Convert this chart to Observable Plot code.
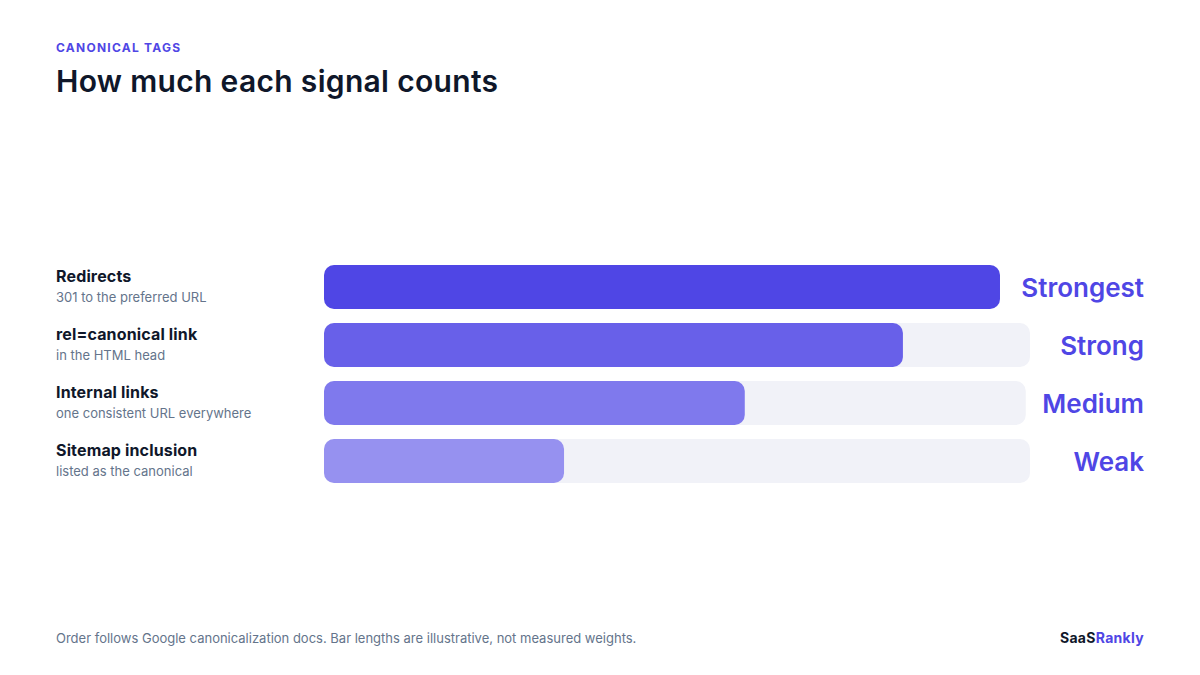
<!DOCTYPE html>
<html>
<head>
<meta charset="utf-8">
<script src="https://cdn.jsdelivr.net/npm/d3@7"></script>
<script src="https://cdn.jsdelivr.net/npm/@observablehq/plot@0.6"></script>
<style>
html,body{margin:0;padding:0;background:#fff;}
body{width:1200px;height:675px;position:relative;overflow:hidden;font-family:Inter,sans-serif;}
#eyebrow{position:absolute;left:56px;top:40px;font-size:12px;line-height:15px;font-weight:700;letter-spacing:1.25px;color:#4f46e5;white-space:nowrap;}
#title{position:absolute;left:56px;top:62px;font-size:30px;line-height:38px;font-weight:600;letter-spacing:0.32px;color:#0f172a;white-space:nowrap;margin:0;}
#chart{position:absolute;left:0;top:250px;}
#chart svg{display:block;}
.signal-label text{letter-spacing:0.15px;}
#note{position:absolute;left:56px;top:630px;font-size:13px;line-height:16px;color:#64748b;white-space:nowrap;}
#brand{position:absolute;right:56px;top:629px;font-size:14px;line-height:17px;font-weight:700;letter-spacing:0.3px;color:#0f172a;white-space:nowrap;}
#brand span{color:#4f46e5;}
</style>
</head>
<body>
<div id="eyebrow">CANONICAL TAGS</div>
<h1 id="title">How much each signal counts</h1>
<div id="chart"></div>
<div id="note">Order follows Google canonicalization docs. Bar lengths are illustrative, not measured weights.</div>
<div id="brand">SaaS<span>Rankly</span></div>
<script>
const signals = ["Redirects", "rel=canonical link", "Internal links", "Sitemap inclusion"];
const details = ["301 to the preferred URL", "in the HTML head", "one consistent URL everywhere", "listed as the canonical"];
const strengths = ["Strongest", "Strong", "Medium", "Weak"];
const fillValues = [95.75, 82, 59.6, 34];
const trackValues = [95.75, 100, 99.4, 100];
const fillColors = ["#4f46e5", "#6860e9", "#7f79ed", "#9691f0"];

const rows = signals.map((signal, i) => ({
  signal, detail: details[i], strength: strengths[i],
  fill: fillValues[i], track: trackValues[i], color: fillColors[i]
}));

const font = "Inter, sans-serif";
const plot = Plot.plot({
  width: 1200,
  height: 240,
  marginLeft: 56,
  marginRight: 56,
  marginTop: 15,
  marginBottom: 7,
  x: {domain: [0, 100], range: [324, 1030], axis: null},
  y: {domain: signals, paddingInner: 14 / 58, paddingOuter: 0, round: false, axis: null},
  marks: [
    Plot.barX(rows, {x: "track", y: "signal", fill: "#f1f2f8", rx: 10}),
    Plot.barX(rows, {x: "fill", y: "signal", fill: d => d.color, rx: 10}),
    Plot.text(rows, {text: "signal", y: "signal", frameAnchor: "left", textAnchor: "start", dx: -0.5, dy: -11, fontSize: 16, fontWeight: 700, fontFamily: font, fill: "#0f172a", className: "signal-label"}),
    Plot.text(rows, {text: "detail", y: "signal", frameAnchor: "left", textAnchor: "start", dx: -0.5, dy: 10, fontSize: 13, fontFamily: font, fill: "#64748b"}),
    Plot.text(rows, {text: "strength", y: "signal", frameAnchor: "right", textAnchor: "end", dx: -0.5, dy: 1, fontSize: 26, fontWeight: 600, fontFamily: font, fill: "#4f46e5"})
  ]
});
document.getElementById("chart").appendChild(plot);
</script>
</body>
</html>
